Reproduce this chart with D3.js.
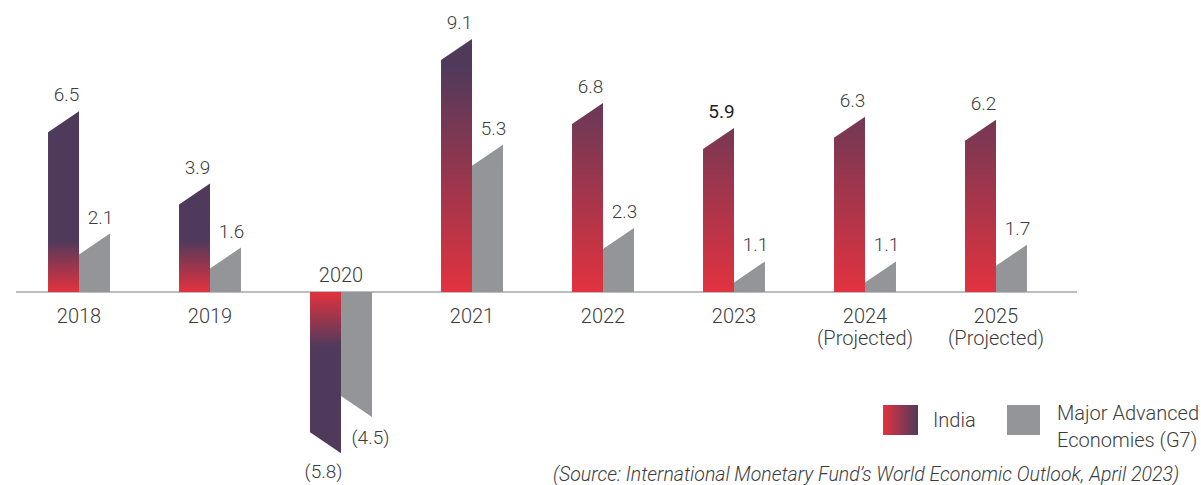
<!DOCTYPE html>
<html>
<head>
<meta charset="utf-8">
<script src="https://cdn.jsdelivr.net/npm/d3@7/dist/d3.min.js"></script>
<style>
  html, body { margin: 0; padding: 0; background: #fff; }
  svg { display: block; font-family: Roboto, "Noto Sans", sans-serif; }
</style>
</head>
<body>
<svg id="chart" width="1201" height="485"></svg>
<script>
// GDP growth (%), India vs Major Advanced Economies (G7)
const years = ["2018", "2019", "2020", "2021", "2022", "2023", "2024", "2025"];
const subLabels = ["", "", "", "", "", "", "(Projected)", "(Projected)"];
const india = [6.5, 3.9, -5.8, 9.1, 6.8, 5.9, 6.3, 6.2];
const g7 = [2.1, 1.6, -4.5, 5.3, 2.3, 1.1, 1.1, 1.7];
const seriesNames = ["India", "Major Advanced", "Economies (G7)"];
const sourceText = "(Source: International Monetary Fund\u2019s World Economic Outlook, April 2023)";

const RED = "#e2323f", PURPLE = "#4f3a5c", GREY = "#939598", TEXT = "#3c3c3c";

const svg = d3.select("#chart");
const defs = svg.append("defs");

const x = d3.scaleBand().domain(years).range([13.5, 1061.5]).paddingInner(0.527).paddingOuter(0.2635);
const y = d3.scaleLinear().domain([0, 9.1]).range([292, 39]);
const bw = x.bandwidth() / 2;   // width of one bar
const slant = 21;               // drop of the cut top edge toward the left

// Vertical gradients in user space: red at the zero line fading to purple
function vGrad(id, y1, y2) {
  const g = defs.append("linearGradient").attr("id", id)
    .attr("gradientUnits", "userSpaceOnUse")
    .attr("x1", 0).attr("x2", 0).attr("y1", y1).attr("y2", y2);
  g.append("stop").attr("offset", "0%").attr("stop-color", RED);
  g.append("stop").attr("offset", "100%").attr("stop-color", PURPLE);
}
vGrad("gShort", y(0), y(0) - 52);
vGrad("gNeg", y(0), y(0) + 55);
vGrad("gLong", y(0), y(9.1) + 25);
const hg = defs.append("linearGradient").attr("id", "gLegend")
  .attr("x1", 0).attr("x2", 1).attr("y1", 0).attr("y2", 0);
hg.append("stop").attr("offset", "0%").attr("stop-color", RED);
hg.append("stop").attr("offset", "100%").attr("stop-color", PURPLE);

function gradFor(i, v) {
  if (v < 0) return "url(#gNeg)";
  return i < 2 ? "url(#gShort)" : "url(#gLong)";
}

// Bar with a slanted end: the right edge reaches the value, the left edge is cut shorter
function barPath(x0, v) {
  const x1 = x0 + bw;
  const y0 = y(0), yv = y(v);
  const dir = v >= 0 ? 1 : -1;
  const yl = yv + dir * slant;
  return `M${x0},${y0}L${x0},${yl}L${x1},${yv}L${x1},${y0}Z`;
}

// zero line
svg.append("line")
  .attr("x1", 16).attr("x2", 1077)
  .attr("y1", y(0)).attr("y2", y(0))
  .attr("stroke", "#a7a7a9").attr("stroke-width", 1.3);

const groups = svg.selectAll("g.year").data(years).join("g").attr("class", "year");

groups.append("path")
  .attr("d", (d, i) => barPath(x(d), india[i]))
  .attr("fill", (d, i) => gradFor(i, india[i]));

groups.append("path")
  .attr("d", (d, i) => barPath(x(d) + bw, g7[i]))
  .attr("fill", GREY);

const fmt = v => v < 0 ? `(${Math.abs(v).toFixed(1)})` : v.toFixed(1);

// value labels
groups.append("text")
  .attr("x", (d, i) => india[i] < 0 ? x(d) + bw / 2 - 2 : x(d) + bw / 2 + 3)
  .attr("y", (d, i) => india[i] < 0 ? y(india[i]) + 25 : y(india[i]) - 10)
  .attr("text-anchor", "middle")
  .attr("font-size", 19)
  .attr("font-weight", (d, i) => i === 5 ? 400 : 300)
  .attr("fill", (d, i) => i === 5 ? "#222" : TEXT)
  .text((d, i) => fmt(india[i]));

groups.append("text")
  .attr("x", (d, i) => g7[i] < 0 ? x(d) + bw * 1.5 + 14 : x(d) + bw * 1.5 + 6)
  .attr("y", (d, i) => g7[i] < 0 ? y(g7[i]) + 27 : y(g7[i]) - 10)
  .attr("text-anchor", "middle")
  .attr("font-size", 19)
  .attr("font-weight", 300)
  .attr("fill", TEXT)
  .text((d, i) => fmt(g7[i]));

// category labels (above the line where the bars go negative)
groups.append("text")
  .attr("x", d => x(d) + bw)
  .attr("y", (d, i) => india[i] < 0 ? y(0) - 10 : y(0) + 31)
  .attr("text-anchor", "middle")
  .attr("font-size", 20)
  .attr("font-weight", 300)
  .attr("fill", TEXT)
  .text(d => d);

groups.filter((d, i) => subLabels[i]).append("text")
  .attr("x", d => x(d) + bw)
  .attr("y", y(0) + 53)
  .attr("text-anchor", "middle")
  .attr("font-size", 20)
  .attr("font-weight", 300)
  .attr("fill", TEXT)
  .text(d => subLabels[years.indexOf(d)]);

// legend
const lg = svg.append("g");
lg.append("rect").attr("x", 883).attr("y", 405).attr("width", 35).attr("height", 30).attr("fill", "url(#gLegend)");
lg.append("text").attr("x", 933).attr("y", 427).attr("font-size", 20).attr("font-weight", 300)
  .attr("fill", TEXT).text(seriesNames[0]);
lg.append("rect").attr("x", 1007).attr("y", 405).attr("width", 33).attr("height", 30).attr("fill", GREY);
lg.append("text").attr("x", 1057).attr("y", 420).attr("font-size", 20).attr("font-weight", 300)
  .attr("fill", TEXT).text(seriesNames[1]);
lg.append("text").attr("x", 1057).attr("y", 447).attr("font-size", 20).attr("font-weight", 300)
  .attr("fill", TEXT).text(seriesNames[2]);

// source note
svg.append("text").attr("x", 553).attr("y", 481)
  .attr("font-size", 19.5).attr("font-style", "italic").attr("font-weight", 300)
  .attr("fill", TEXT).text(sourceText);
</script>
</body>
</html>
